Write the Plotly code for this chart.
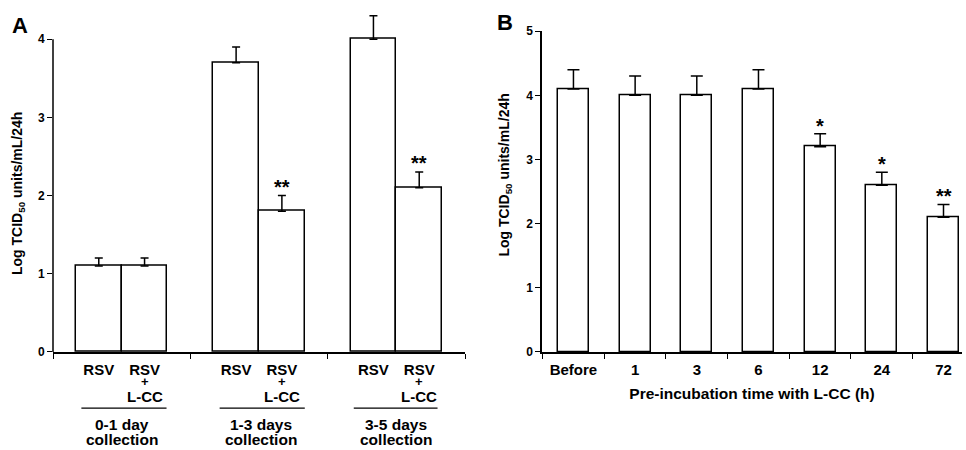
import plotly.graph_objects as go

# ---------------- data ----------------
a_x = [1, 2, 4, 5, 7, 8]
a_labels = ["RSV", "RSV", "RSV", "RSV", "RSV", "RSV"]
a_values = [1.1, 1.1, 3.7, 1.8, 4.0, 2.1]
a_errors = [0.1, 0.1, 0.2, 0.2, 0.3, 0.2]
a_groups = ["0-1 day", "1-3 days", "3-5 days"]
a_stars = {5: "**", 8: "**"}

b_categories = ["Before", "1", "3", "6", "12", "24", "72"]
b_values = [4.1, 4.0, 4.0, 4.1, 3.2, 2.6, 2.1]
b_errors = [0.3, 0.3, 0.3, 0.3, 0.2, 0.2, 0.2]
b_stars = ["", "", "", "", "*", "*", "**"]

FONT = "Arial, Liberation Sans, Helvetica, sans-serif"
W, H = 966, 450

fig = go.Figure()

fig.add_trace(go.Bar(
    x=a_x, y=a_values, width=1.0,
    marker=dict(color="white", line=dict(color="black", width=1.5)),
    error_y=dict(type="data", array=a_errors, arrayminus=[0] * len(a_errors),
                 symmetric=False, color="black", thickness=1.5, width=4),
    xaxis="x", yaxis="y", showlegend=False, hoverinfo="skip"))

b_x = list(range(len(b_categories)))
fig.add_trace(go.Bar(
    x=b_x, y=b_values, width=0.5,
    marker=dict(color="white", line=dict(color="black", width=1.5)),
    error_y=dict(type="data", array=b_errors, arrayminus=[0] * len(b_errors),
                 symmetric=False, color="black", thickness=1.5, width=6),
    xaxis="x2", yaxis="y2", showlegend=False, hoverinfo="skip"))

tickfont = dict(family=FONT, size=12, color="black", weight="bold")
catfont = dict(family=FONT, size=15, color="black", weight="bold")

fig.update_layout(
    width=W, height=H, margin=dict(l=0, r=0, t=0, b=0),
    paper_bgcolor="white", plot_bgcolor="white", bargap=0,
    xaxis=dict(domain=[53 / W, 465 / W], range=[0, 9], anchor="y",
               showline=True, linecolor="black", linewidth=1.5,
               showgrid=False, zeroline=False,
               tickvals=a_x, ticktext=a_labels, ticks="",
               tickfont=catfont, ticklabelstandoff=3,
               minor=dict(tickvals=[0, 3, 6, 9], ticks="outside", ticklen=5,
                          tickcolor="black", tickwidth=1.2, showgrid=False)),
    yaxis=dict(domain=[(H - 356) / H, (H - 5) / H], range=[0, 4.35], anchor="x",
               showline=False, showgrid=False, zeroline=False,
               tickvals=[0, 1, 2, 3, 4], ticks="outside", ticklen=5,
               tickcolor="black", tickwidth=1.2, tickfont=tickfont),
    xaxis2=dict(domain=[542 / W, 962 / W], range=[-0.51, 6.3], anchor="y2",
                showline=True, linecolor="black", linewidth=1.5,
                showgrid=False, zeroline=False,
                tickvals=b_x, ticktext=b_categories, ticks="",
                tickfont=catfont, ticklabelstandoff=3,
                minor=dict(tickvals=[-0.5, 0.5, 1.5, 2.5, 3.5, 4.5, 5.5],
                           ticks="outside", ticklen=5, tickcolor="black",
                           tickwidth=1.2, showgrid=False),
                title=dict(text="Pre-incubation time with L-CC (h)",
                           font=dict(family=FONT, size=15.5, color="black", weight="bold"),
                           standoff=11)),
    yaxis2=dict(domain=[(H - 356) / H, (H - 25) / H], range=[0, 5], anchor="x2",
                showline=True, linecolor="black", linewidth=1.5,
                showgrid=False, zeroline=False,
                tickvals=[0, 1, 2, 3, 4, 5], ticks="outside", ticklen=5,
                tickcolor="black", tickwidth=1.2, tickfont=tickfont),
)

# y-axis line of panel A (stops at 4)
fig.add_shape(type="line", xref="x domain", yref="y", x0=0, x1=0, y0=0, y1=4,
              line=dict(color="black", width=1.5))

ann = []
plusfont = dict(family=FONT, size=13, color="black", weight="bold")
# "+" and "L-CC" lines under the L-CC bars
for xv in [2, 5, 8]:
    ann.append(dict(x=xv, y=(H - 387) / H, xref="x", yref="paper", text="+",
                    showarrow=False, font=plusfont, yanchor="middle"))
    ann.append(dict(x=xv, y=(H - 402) / H, xref="x", yref="paper", text="L-CC",
                    showarrow=False, font=catfont, yanchor="middle"))
# group labels with lines
grpfont = dict(family=FONT, size=15.5, color="black", weight="bold")
for (x0, x1, xc, g) in [(0.62, 2.48, 1.5, a_groups[0]),
                        (3.64, 5.5, 4.55, a_groups[1]),
                        (6.57, 8.4, 7.5, a_groups[2])]:
    fig.add_shape(type="line", xref="x", yref="paper", x0=x0, x1=x1,
                  y0=(H - 414) / H, y1=(H - 414) / H, line=dict(color="black", width=1.2))
    ann.append(dict(x=xc, y=(H - 431) / H, xref="x", yref="paper", text=g,
                    showarrow=False, font=grpfont, yanchor="middle"))
    ann.append(dict(x=xc, y=(H - 446) / H, xref="x", yref="paper", text="collection",
                    showarrow=False, font=grpfont, yanchor="middle"))

starfont = dict(family=FONT, size=20, color="black", weight="bold")
for i, xv in enumerate(a_x):
    if xv in a_stars:
        ann.append(dict(x=xv, y=a_values[i] + a_errors[i], xref="x", yref="y",
                        text=a_stars[xv], showarrow=False, font=starfont,
                        yanchor="bottom", yshift=-4))
for i, s in enumerate(b_stars):
    if s:
        ann.append(dict(x=b_x[i], y=b_values[i] + b_errors[i], xref="x2", yref="y2",
                        text=s, showarrow=False, font=starfont,
                        yanchor="bottom", yshift=-5))

titlefont = dict(family=FONT, size=14, color="black", weight="bold")
ytitle = "Log TCID<sub>50</sub> units/mL/24h"
ann.append(dict(x=18 / W, y=(H - 193) / H, xref="paper", yref="paper", text=ytitle,
                textangle=-90, showarrow=False, font=titlefont,
                xanchor="center", yanchor="middle"))
ann.append(dict(x=505 / W, y=(H - 174) / H, xref="paper", yref="paper", text=ytitle,
                textangle=-90, showarrow=False, font=titlefont,
                xanchor="center", yanchor="middle"))

panelfont = dict(family=FONT, size=22, color="black", weight="bold")
ann.append(dict(x=20 / W, y=(H - 19) / H, xref="paper", yref="paper", text="A",
                showarrow=False, font=panelfont, xanchor="center", yanchor="middle"))
ann.append(dict(x=505 / W, y=(H - 16) / H, xref="paper", yref="paper", text="B",
                showarrow=False, font=panelfont, xanchor="center", yanchor="middle"))

fig.update_layout(annotations=ann)
fig.write_html("out.html")
